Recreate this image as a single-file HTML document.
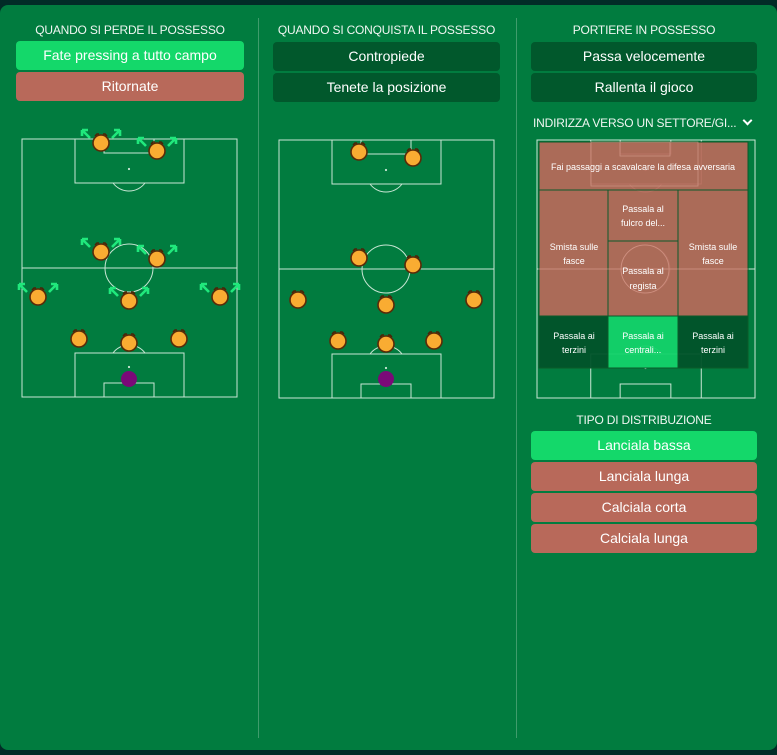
<!DOCTYPE html>
<html><head><meta charset="utf-8"><style>
*{margin:0;padding:0;box-sizing:border-box}
body{width:777px;height:755px;background:#022c27;position:relative;overflow:hidden;font-family:"Liberation Sans",sans-serif;color:#fff}
#panel{position:absolute;left:0;top:5px;width:777px;height:745px;background:#017c3f;border-radius:8px}
.div{position:absolute;top:18px;width:1px;height:720px;background:#3f9c6c}
.h{position:absolute;font-size:12px;text-align:center;color:#f0f6f2;white-space:nowrap;letter-spacing:-0.2px}
.b{position:absolute;height:29px;border-radius:4px;font-size:14px;text-align:center;line-height:29px;color:#fff}
.g{background:#14d86a}.r{background:#b8695a}.d{background:#01582c}
svg{position:absolute;left:0;top:0}
.t{font-family:"Liberation Sans",sans-serif;font-size:9px;fill:#fff;text-anchor:middle}
.chev{position:absolute;left:744px;top:117px;width:7px;height:7px;border-right:2px solid #fff;border-bottom:2px solid #fff;transform:rotate(45deg)}
</style></head><body>
<div id="panel"></div>
<div class="div" style="left:258px"></div>
<div class="div" style="left:516px"></div>
<div class="h" style="left:16px;width:228px;top:23px">QUANDO SI PERDE IL POSSESSO</div>
<div class="b g" style="left:16px;width:228px;top:41px">Fate pressing a tutto campo</div>
<div class="b r" style="left:16px;width:228px;top:72px">Ritornate</div>
<div class="h" style="left:273px;width:227px;top:23px">QUANDO SI CONQUISTA IL POSSESSO</div>
<div class="b d" style="left:273px;width:227px;top:42px">Contropiede</div>
<div class="b d" style="left:273px;width:227px;top:73px">Tenete la posizione</div>
<div class="h" style="left:531px;width:226px;top:23px">PORTIERE IN POSSESSO</div>
<div class="b d" style="left:531px;width:226px;top:42px">Passa velocemente</div>
<div class="b d" style="left:531px;width:226px;top:73px">Rallenta il gioco</div>
<div class="h" style="left:533px;top:116px;text-align:left">INDIRIZZA VERSO UN SETTORE/GI...</div>
<div class="chev"></div>
<div class="h" style="left:531px;width:226px;top:413px">TIPO DI DISTRIBUZIONE</div>
<div class="b g" style="left:531px;width:226px;top:431px">Lanciala bassa</div>
<div class="b r" style="left:531px;width:226px;top:462px">Lanciala lunga</div>
<div class="b r" style="left:531px;width:226px;top:493px">Calciala corta</div>
<div class="b r" style="left:531px;width:226px;top:524px">Calciala lunga</div>
<svg width="777" height="755" viewBox="0 0 777 755">
<defs>
<g id="p" fill="none" stroke="#c9e6d4" stroke-width="1">
<rect x="0" y="0" width="215" height="258"/>
<line x1="0" y1="129" x2="215" y2="129"/>
<circle cx="107" cy="129" r="24"/>
<rect x="53" y="0" width="109" height="44"/>
<rect x="82" y="0" width="50" height="14"/>
<rect x="53" y="214" width="109" height="44"/>
<rect x="82" y="244" width="50" height="14"/>
<path d="M91 44 A20 20 0 0 0 123 44"/>
<path d="M91 214 A20 20 0 0 1 123 214"/>
<circle cx="107" cy="30" r="0.6" fill="#c9e6d4"/>
<circle cx="107" cy="228" r="0.6" fill="#c9e6d4"/>
</g>
<g id="pl"><path d="M-6 -7 l2 -2 h2 M6 -7 l-2 -2 h-2" stroke="#4a2206" stroke-width="1.5" fill="none"/><circle r="8" fill="#f9ac32" stroke="#5a2a08" stroke-width="1.6"/></g>
<g id="ar" fill="none" stroke="#20e87c" stroke-width="2.6"><path d="M-11 -5 L-18 -12 M-19 -13 h6 M-19 -13 v6 M11 -5 L18 -12 M19 -13 h-6 M19 -13 v6"/></g>
</defs>
<use href="#p" x="22" y="139"/>
<use href="#p" x="279" y="140"/>
<g transform="translate(537,140) scale(1.014,1)"><use href="#p"/></g>
<g>
<use href="#ar" x="101" y="143"/><use href="#pl" x="101" y="143"/>
<use href="#ar" x="157" y="151"/><use href="#pl" x="157" y="151"/>
<use href="#ar" x="101" y="252"/><use href="#pl" x="101" y="252"/>
<use href="#ar" x="157" y="259"/><use href="#pl" x="157" y="259"/>
<use href="#ar" x="38" y="297"/><use href="#pl" x="38" y="297"/>
<use href="#ar" x="129" y="301"/><use href="#pl" x="129" y="301"/>
<use href="#ar" x="220" y="297"/><use href="#pl" x="220" y="297"/>
<use href="#pl" x="79" y="339"/><use href="#pl" x="129" y="343"/><use href="#pl" x="179" y="339"/>
<circle cx="129" cy="379" r="8" fill="#7a0a78"/>
</g>
<g>
<use href="#pl" x="359" y="152"/><use href="#pl" x="413" y="158"/>
<use href="#pl" x="359" y="258"/><use href="#pl" x="413" y="265"/>
<use href="#pl" x="298" y="300"/><use href="#pl" x="386" y="305"/><use href="#pl" x="474" y="300"/>
<use href="#pl" x="338" y="341"/><use href="#pl" x="386" y="344"/><use href="#pl" x="434" y="341"/>
<circle cx="386" cy="379" r="8" fill="#7a0a78"/>
</g>
<g stroke="#0b5a2a" stroke-width="1">
<rect x="539" y="142" width="209" height="48" fill="#b8695a" fill-opacity="0.93"/>
<rect x="539" y="190" width="69" height="126" fill="#b8695a" fill-opacity="0.93"/>
<rect x="608" y="190" width="70" height="51" fill="#b8695a" fill-opacity="0.93"/>
<rect x="608" y="241" width="70" height="75" fill="#b8695a" fill-opacity="0.93"/>
<rect x="678" y="190" width="70" height="126" fill="#b8695a" fill-opacity="0.93"/>
<rect x="539" y="316" width="69" height="52" fill="#01532a" fill-opacity="0.95"/>
<rect x="608" y="316" width="70" height="52" fill="#13d36a" fill-opacity="0.95"/>
<rect x="678" y="316" width="70" height="52" fill="#01532a" fill-opacity="0.95"/>
</g>
<g fill="none" stroke="#d9a090" stroke-width="0.8" opacity="0.7">
<rect x="591" y="142" width="107" height="44"/><rect x="620" y="142" width="50" height="14"/>
<circle cx="645" cy="269" r="24"/><line x1="539" y1="269" x2="748" y2="269"/>
</g>
<text class="t" x="643" y="170">Fai passaggi a scavalcare la difesa avversaria</text>
<text class="t" x="574" y="250">Smista sulle</text><text class="t" x="574" y="264">fasce</text>
<text class="t" x="713" y="250">Smista sulle</text><text class="t" x="713" y="264">fasce</text>
<text class="t" x="643" y="212">Passala al</text><text class="t" x="643" y="226">fulcro del...</text>
<text class="t" x="643" y="274">Passala al</text><text class="t" x="643" y="289">regista</text>
<text class="t" x="574" y="339">Passala ai</text><text class="t" x="574" y="353">terzini</text>
<text class="t" x="643" y="339">Passala ai</text><text class="t" x="643" y="353">centrali...</text>
<text class="t" x="713" y="339">Passala ai</text><text class="t" x="713" y="353">terzini</text>
</svg>
</body></html>
